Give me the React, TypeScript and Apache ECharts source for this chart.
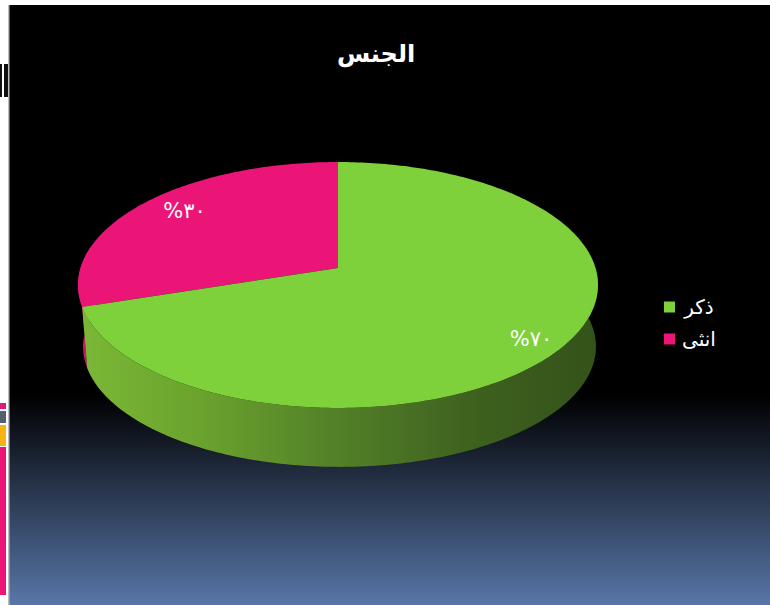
import React, { useEffect, useRef } from "react";
import * as echarts from "echarts";

const titleText = "الجنس";
const sliceNames = ["ذكر", "انثى"];
const sliceValues = [70, 30];
const sliceLabels = ["%٧٠", "%٣٠"];
const sliceColors = ["#7ed13a", "#ea1577"];

const FONT = "'DejaVu Sans', sans-serif";
const W = 770;
const H = 605;

// projected disc geometry
const K = 0.138;
const TOP_DISC = { cx: 338, y0: 268, A: 120.6, B: 257.5 };
const BOTTOM_DISC = { cx: 339.5, y0: 330, A: 118, B: 254 };
const WALL_FROM = 80;
const WALL_TO = 280;
const LABEL_R = [0.87, 0.8];
const LABEL_NUDGE = [[-2, 5], [3, -4]];

const project = (deg: number, r: number, d: typeof TOP_DISC) => {
  const t = (deg * Math.PI) / 180;
  const u = r * Math.sin(t);
  const v = -r * Math.cos(t);
  const w = 1 - K * v;
  return [d.cx + (d.B * u) / w, d.y0 + (d.A * v) / w];
};

const arc = (from: number, to: number, d: typeof TOP_DISC) => {
  const pts: number[][] = [];
  const n = Math.max(2, Math.ceil(Math.abs(to - from)));
  for (let i = 0; i <= n; i++) pts.push(project(from + ((to - from) * i) / n, 1, d));
  return pts;
};

const total = sliceValues.reduce((a, b) => a + b, 0);

const wallFill = (i: number) =>
  i === 0
    ? new echarts.graphic.LinearGradient(0, 0, 1, 0, [
        { offset: 0, color: "#7ab836" },
        { offset: 0.225, color: "#6ba32e" },
        { offset: 0.5, color: "#527f28" },
        { offset: 0.77, color: "#3d601e" },
        { offset: 1, color: "#34521a" },
      ])
    : "#d01468";

export default function App() {
  const ref = useRef<HTMLDivElement>(null);
  useEffect(() => {
    document.body.style.margin = "0";
    const chart = echarts.init(ref.current!, undefined, { renderer: "svg" });
    let start = 0;
    const spans = sliceValues.map((v) => {
      const s = { from: start, to: start + (v / total) * 360 };
      start = s.to;
      return s;
    });
    chart.setOption({
      animation: false,
      backgroundColor: "#ffffff",
      title: {
        text: titleText,
        left: 371,
        top: 37,
        textAlign: "center",
        textStyle: { color: "#ffffff", fontFamily: FONT, fontSize: 24, fontWeight: "bold" },
      },
      legend: {
        orient: "vertical",
        left: 659,
        top: 292,
        itemWidth: 11,
        itemHeight: 11,
        itemGap: 12,
        icon: "rect",
        data: sliceNames,
        formatter: (n: string) => `{a|${n}}`,
        textStyle: {
          color: "#ffffff",
          fontFamily: FONT,
          rich: { a: { width: 38, align: "center", color: "#ffffff", fontFamily: FONT, fontSize: 20, lineHeight: 26 } },
        },
      },
      graphic: [
        { type: "rect", z: -10, shape: { x: 9, y: 5, width: W - 9, height: H - 5 }, style: {
            fill: new echarts.graphic.LinearGradient(0, 0, 0, 1, [
              { offset: 0, color: "#000000" },
              { offset: 0.65, color: "#000000" },
              { offset: 1, color: "#5876a8" },
            ]) } },
        { type: "rect", z: -9, shape: { x: 8, y: 5, width: 1.5, height: H - 5 }, style: { fill: "#bbbbbb" } },
        { type: "rect", z: -9, shape: { x: 0, y: 64, width: 2, height: 33 }, style: { fill: "#111111" } },
        { type: "rect", z: -9, shape: { x: 4, y: 64, width: 4, height: 33 }, style: { fill: "#111111" } },
        { type: "rect", z: -9, shape: { x: 0, y: 403, width: 6, height: 6 }, style: { fill: "#e0197d" } },
        { type: "rect", z: -9, shape: { x: 0, y: 411, width: 6, height: 12 }, style: { fill: "#55606f" } },
        { type: "rect", z: -9, shape: { x: 0, y: 425, width: 6, height: 21 }, style: { fill: "#f9b214" } },
        { type: "rect", z: -9, shape: { x: 0, y: 447, width: 6, height: 148 }, style: { fill: "#ea1577" } },
      ],
      series: sliceNames.map((name, i) => ({
        type: "custom",
        name,
        coordinateSystem: "none",
        silent: true,
        z: i === 0 ? 3 : 2,
        itemStyle: { color: sliceColors[i] },
        data: [sliceValues[i]],
        renderItem: () => {
          const { from, to } = spans[i];
          const mid = (from + to) / 2;
          const wf = Math.max(from, WALL_FROM);
          const wt = Math.min(to, WALL_TO);
          const children: any[] = [];
          if (wt > wf) {
            children.push({
              type: "polygon",
              shape: { points: [...arc(wf, wt, TOP_DISC), ...arc(wt, wf, BOTTOM_DISC)] },
              style: { fill: wallFill(i) },
            });
          }
          children.push({
            type: "polygon",
            shape: { points: [[TOP_DISC.cx, TOP_DISC.y0], ...arc(from, to, TOP_DISC)] },
            style: { fill: sliceColors[i] },
          });
          const [lx, ly] = project(mid, LABEL_R[i], TOP_DISC);
          children.push({
            type: "text",
            x: lx + LABEL_NUDGE[i][0],
            y: ly + LABEL_NUDGE[i][1],
            style: {
              text: sliceLabels[i],
              fill: "#ffffff",
              font: `21px ${FONT}`,
              align: "center",
              verticalAlign: "middle",
            },
          });
          return { type: "group", children };
        },
      })),
    });
    return () => chart.dispose();
  }, []);
  return <div ref={ref} style={{ width: W, height: H }} />;
}
